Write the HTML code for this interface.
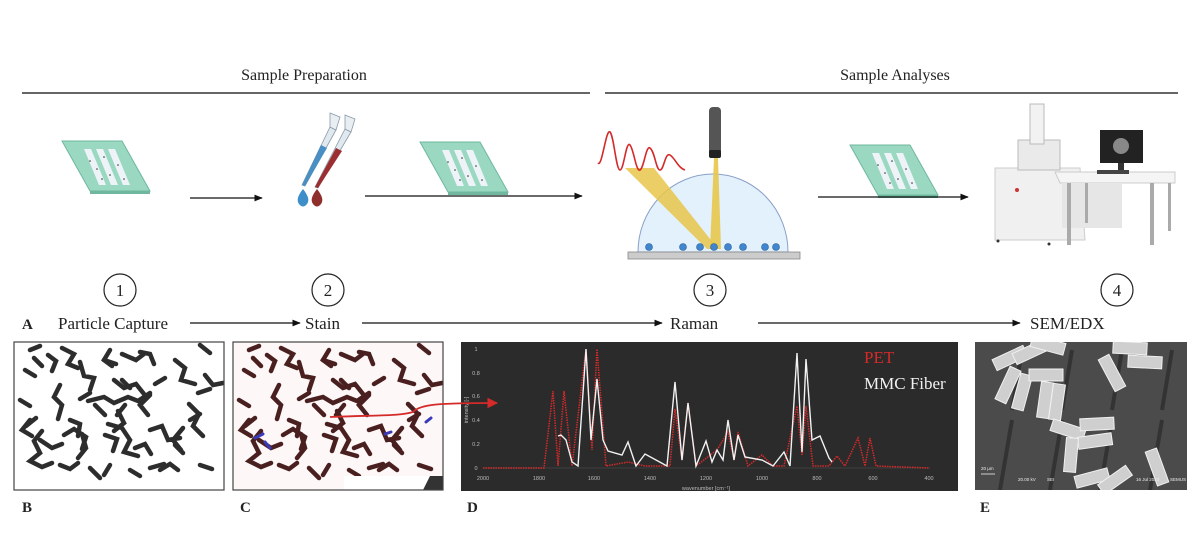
<!DOCTYPE html>
<html><head><meta charset="utf-8"><style>
html,body{margin:0;padding:0;background:#fff;}
svg{display:block;font-family:"Liberation Serif",serif;}
</style></head><body>
<svg width="1200" height="557" viewBox="0 0 1200 557" xmlns="http://www.w3.org/2000/svg">
<defs>
<marker id="ah" viewBox="0 0 10 10" refX="9" refY="5" markerWidth="7" markerHeight="7" orient="auto"><path d="M0,1 L10,5 L0,9 z" fill="#111"/></marker>
<marker id="ahr" viewBox="0 0 10 10" refX="9" refY="5" markerWidth="6" markerHeight="6" orient="auto"><path d="M0,0 L10,5 L0,10 z" fill="#d42a2a"/></marker>
<g id="slide">
<polygon points="0,0 60,0 88,50 28,50" fill="#9ad8c2" stroke="#6fb89f" stroke-width="1"/>
<polygon points="28,50 88,50 88,53 28,53" fill="#6fb89f"/>
<polygon points="22,8 29,8 44,44 37,44" fill="#eef3f8"/>
<polygon points="34,8 41,8 56,44 49,44" fill="#eef3f8"/>
<polygon points="46,8 53,8 68,44 61,44" fill="#eef3f8"/>
<g fill="#333"><circle cx="28" cy="20" r="0.8"/><circle cx="35" cy="28" r="0.8"/><circle cx="42" cy="16" r="0.8"/><circle cx="48" cy="34" r="0.8"/><circle cx="56" cy="24" r="0.8"/><circle cx="62" cy="38" r="0.8"/><circle cx="40" cy="38" r="0.8"/></g>
</g>
<g id="parts">
<path d="M30,350 l10,-4 m-6,12 l8,8 m20,-18 l12,6 l-6,10 l10,4 M80,362 l4,14 l10,2 l-4,12 m14,-30 l12,4 m6,-10 l14,6 l8,-6 m-30,26 l10,8 l12,-4 l8,10 M60,385 l-6,12 l8,8 l-4,14 m30,-18 l16,-4 l10,6 l14,-6 l10,4 l12,-8 M150,395 l-10,10 l8,10 m-30,-4 l6,12 l-10,8 m-50,4 l10,-6 l12,8 l-4,12 m-40,-18 l-8,10 l6,12 l-10,8 l12,6 l10,-4 M40,440 l12,8 l10,-4 m20,-10 l4,14 l-8,10 m30,-34 l14,4 l8,12 l-6,12 l14,4 M150,430 l12,-4 l6,14 l12,-2 M175,360 l10,8 l-4,12 l14,4 m-6,20 l10,10 l-6,12 l10,10 m-20,-8 l-10,12 l8,10 M200,345 l10,8 m-12,40 l12,-4 M20,400 l10,6 m-4,20 l10,-8 M130,470 l10,6 m-50,-8 l10,10 m50,-10 l14,-4"/>
<path d="M48,355 l8,6 l-4,10 M110,350 l-6,10 l8,6 M140,352 l10,2 l4,10 M165,378 l-10,6 M122,380 l8,8 m-40,5 l-10,6 M30,420 l-8,10 l10,6 M70,420 l10,4 l-2,12 M105,435 l12,4 l-4,12 M135,448 l10,-4 l6,10 M175,445 l8,8 M190,420 l10,-6 M205,375 l8,10 l10,-2 M60,465 l10,4 l8,-6 M110,465 l-6,10 M160,470 l10,-6 l8,6 M200,465 l12,4 M25,370 l10,6 M95,405 l10,10 M125,405 l-8,10"/>
</g>
</defs>

<text x="304" y="80" font-size="16" text-anchor="middle" fill="#222">Sample Preparation</text>
<text x="895" y="80" font-size="16" text-anchor="middle" fill="#222">Sample Analyses</text>
<line x1="22" y1="93" x2="590" y2="93" stroke="#333" stroke-width="1.5"/>
<line x1="605" y1="93" x2="1178" y2="93" stroke="#333" stroke-width="1.5"/>

<g transform="translate(62,141)"><use href="#slide"/></g>
<g transform="translate(420,142)"><use href="#slide"/></g>
<g transform="translate(850,145)"><use href="#slide"/></g>

<line x1="190" y1="198" x2="262" y2="198" stroke="#111" stroke-width="1.2" marker-end="url(#ah)"/>
<line x1="365" y1="196" x2="582" y2="196" stroke="#111" stroke-width="1.2" marker-end="url(#ah)"/>
<line x1="818" y1="197" x2="968" y2="197" stroke="#111" stroke-width="1.2" marker-end="url(#ah)"/>

<!-- pipettes -->
<g>
<polygon points="330,127 336,130 305,186 302,185" fill="#dfe9ef" stroke="#8a9aa5" stroke-width="0.8"/>
<polygon points="321,145 327,148 305,186 302,185" fill="#4a8fc4"/>
<polygon points="330,113 340,117 336,130 330,127" fill="#e8eef2" stroke="#8a9aa5" stroke-width="0.8"/>
<polygon points="345,129 351,132 318,188 315,187" fill="#dfe9ef" stroke="#8a9aa5" stroke-width="0.8"/>
<polygon points="336,148 342,151 318,188 315,187" fill="#9a2e31"/>
<polygon points="345,115 355,119 351,132 345,129" fill="#e8eef2" stroke="#8a9aa5" stroke-width="0.8"/>
<path d="M303,189 q-8,10 -4,15 q4,5 8,0 q4,-5 -4,-15z" fill="#3d8ec9"/>
<path d="M317,189 q-8,10 -4,15 q4,5 8,0 q4,-5 -4,-15z" fill="#8f2f2c"/>
</g>

<!-- raman -->
<g>
<path d="M638,252 A75,78 0 0 1 788,252 Z" fill="#e2f1fb" stroke="#8aa0c8" stroke-width="1"/>
<polygon points="625,168 654,168 718,249 707,249" fill="#e8c64a" opacity="0.85"/>
<polygon points="714,158 718,158 721,249 710,249" fill="#e8c64a" opacity="0.9"/>
<rect x="709" y="107" width="12" height="50" rx="4" fill="#555"/>
<rect x="709" y="150" width="12" height="8" rx="2" fill="#222"/>
<path d="M598,163 C602,168 606,128 610,132 C614,136 616,170 620,170 C624,170 626,140 630,145 C634,150 636,172 640,170 C644,168 646,145 650,148 C655,152 656,170 660,170 C664,170 665,152 670,155 C675,158 678,168 685,170" fill="none" stroke="#d42a2a" stroke-width="1.6"/>
<rect x="628" y="252" width="172" height="7" fill="#ccc" stroke="#888" stroke-width="0.8"/>
<g fill="#3f86cf" stroke="#2a5f9a" stroke-width="0.6">
<circle cx="649" cy="247" r="3.5"/><circle cx="683" cy="247" r="3.5"/><circle cx="700" cy="247" r="3.5"/><circle cx="714" cy="247" r="3.5"/><circle cx="728" cy="247" r="3.5"/><circle cx="743" cy="247" r="3.5"/><circle cx="765" cy="247" r="3.5"/><circle cx="776" cy="247" r="3.5"/></g>
</g>

<!-- SEM -->
<g>
<polygon points="995,168 1080,168 1085,240 995,240" fill="#f0f0f0" stroke="#ccc"/>
<polygon points="1055,172 1175,172 1175,183 1060,183" fill="#f5f5f5" stroke="#ccc"/>
<rect x="1062" y="183" width="60" height="45" fill="#e6e6e6"/>
<rect x="1018" y="140" width="42" height="30" fill="#eaeaea" stroke="#bbb"/>
<rect x="1030" y="104" width="14" height="40" fill="#f2f2f2" stroke="#bbb"/>
<rect x="1100" y="130" width="43" height="33" fill="#222"/>
<circle cx="1121" cy="146" r="8" fill="#888"/>
<rect x="1118" y="163" width="6" height="7" fill="#333"/>
<rect x="1097" y="170" width="32" height="4" fill="#444"/>
<circle cx="1017" cy="190" r="2" fill="#c33"/>
<g fill="#aaa"><rect x="1067" y="183" width="4" height="62"/><rect x="1085" y="183" width="3" height="40"/><rect x="1150" y="183" width="4" height="62"/><rect x="1168" y="183" width="3" height="48"/></g>
<circle cx="998" cy="241" r="1.5" fill="#333"/><circle cx="1049" cy="244" r="1.5" fill="#333"/>
</g>

<g fill="none" stroke="#222" stroke-width="1.2">
<circle cx="120" cy="290" r="16"/><circle cx="328" cy="290" r="16"/><circle cx="710" cy="290" r="16"/><circle cx="1117" cy="290" r="16"/></g>
<g font-size="17" text-anchor="middle" fill="#222">
<text x="120" y="296">1</text><text x="328" y="296">2</text><text x="710" y="296">3</text><text x="1117" y="296">4</text></g>

<text x="22" y="329" font-size="15" font-weight="bold" fill="#222">A</text>
<text x="58" y="329" font-size="17" fill="#222">Particle Capture</text>
<line x1="190" y1="323" x2="300" y2="323" stroke="#111" stroke-width="1.2" marker-end="url(#ah)"/>
<text x="305" y="329" font-size="17" fill="#222">Stain</text>
<line x1="362" y1="323" x2="662" y2="323" stroke="#111" stroke-width="1.2" marker-end="url(#ah)"/>
<text x="670" y="329" font-size="17" fill="#222">Raman</text>
<line x1="758" y1="323" x2="1020" y2="323" stroke="#111" stroke-width="1.2" marker-end="url(#ah)"/>
<text x="1030" y="329" font-size="17" fill="#222">SEM/EDX</text>

<!-- B image -->
<svg x="14" y="342" width="210" height="148" viewBox="14 342 210 148">
<rect x="14" y="342" width="210" height="148" fill="#fff"/>
<g stroke="#2d2d2d" stroke-width="4.5" stroke-linecap="round" fill="none"><use href="#parts"/></g>
</svg>
<rect x="14" y="342" width="210" height="148" fill="none" stroke="#444" stroke-width="1.2"/>

<!-- C image -->
<svg x="233" y="342" width="210" height="148" viewBox="14 342 210 148">
<rect x="14" y="342" width="210" height="148" fill="#fdf7f7"/>
<g stroke="#4a1f1f" stroke-width="4.5" stroke-linecap="round" fill="none"><use href="#parts"/></g>
<g stroke="#3a3ab8" stroke-width="3" stroke-linecap="round"><path d="M36,438 l8,-4 m2,8 l5,6 m115,-14 l6,-2 m35,-10 l5,-4"/></g>
<rect x="125" y="476" width="99" height="14" fill="#fff"/>
<path d="M211,476 l13,0 l0,14 l-20,0z" fill="#333"/>
</svg>
<rect x="233" y="342" width="210" height="148" fill="none" stroke="#444" stroke-width="1.2"/>

<!-- D chart -->
<g>
<rect x="461" y="342" width="497" height="149" fill="#2b2b2b"/>
<line x1="483" y1="468" x2="930" y2="468" stroke="#555" stroke-width="0.6"/>
<g fill="#bbb" font-family="Liberation Sans,sans-serif" font-size="5.5" text-anchor="middle">
<text x="483" y="480">2000</text><text x="539" y="480">1800</text><text x="594" y="480">1600</text><text x="650" y="480">1400</text><text x="706" y="480">1200</text><text x="762" y="480">1000</text><text x="817" y="480">800</text><text x="873" y="480">600</text><text x="929" y="480">400</text>
<text x="706" y="490">wavenumber [cm⁻¹]</text>
<text x="476" y="470">0</text><text x="476" y="446">0.2</text><text x="476" y="422">0.4</text><text x="476" y="398">0.6</text><text x="476" y="375">0.8</text><text x="476" y="351">1</text>
<text x="468" y="410" transform="rotate(-90 468 410)">intensity [-]</text>
</g>
<polyline fill="none" stroke="#d42a2a" stroke-width="1.5" stroke-dasharray="1.5 1" points="483,468 544,468 553,391 558,466 564,391 572,466 586,349 592,450 597,349 606,466 628,462 645,466 670,466 675,409 682,460 688,403 696,466 717,450 728,432 734,460 738,432 748,466 762,455 773,466 784,466 797,406 802,455 806,406 813,466 829,466 837,456 845,466 858,438 865,466 870,438 876,466 929,468"/>
<polyline fill="none" stroke="#f2f2f2" stroke-width="1.4" points="558,436 561,435 566,440 572,462 578,466 586,349 591,440 597,379 603,440 608,451 622,455 628,442 636,466 645,454 656,460 667,466 675,382 682,460 688,403 696,466 706,441 712,462 717,450 723,460 728,420 734,460 738,435 745,457 762,460 773,466 784,452 790,466 797,353 802,452 806,359 812,440 820,436 829,458 832,462"/>
<text x="864" y="363" font-size="17" fill="#d42a2a">PET</text>
<text x="864" y="389" font-size="17" fill="#f2f2f2">MMC Fiber</text>
</g>
<path d="M330,417 C380,415 400,416 413,412 C420,404 440,403 497,403" fill="none" stroke="#d42a2a" stroke-width="1.8" marker-end="url(#ahr)"/>

<!-- E SEM image -->
<svg x="975" y="342" width="212" height="148" viewBox="975 342 212 148">
<rect x="975" y="342" width="212" height="148" fill="#4b4b4b"/>
<g stroke="#333" stroke-width="4"><path d="M1000,490 L1012,420 M1012,410 L1022,350 M1050,490 L1062,420 M1062,410 L1072,350 M1100,490 L1112,420 M1112,410 L1122,350 M1150,490 L1162,420 M1162,410 L1172,350"/></g>
<g fill="#cfcfcf" stroke="#f0f0f0" stroke-width="1">
<rect x="-17" y="-6" width="34" height="12" transform="translate(1010,358) rotate(-25)"/>
<rect x="-17" y="-6" width="34" height="12" transform="translate(1030,352) rotate(-25)"/>
<rect x="-17" y="-6" width="34" height="12" transform="translate(1048,345) rotate(15)"/>
<rect x="-6" y="-18" width="12" height="36" transform="translate(1008,385) rotate(25)"/>
<rect x="-6" y="-18" width="12" height="36" transform="translate(1022,392) rotate(15)"/>
<rect x="-17" y="-6" width="34" height="12" transform="translate(1046,375)"/>
<rect x="-6" y="-18" width="12" height="36" transform="translate(1045,400) rotate(8)"/>
<rect x="-6" y="-18" width="12" height="36" transform="translate(1057,402) rotate(8)"/>
<rect x="-6" y="-18" width="12" height="36" transform="translate(1112,373) rotate(-28)"/>
<rect x="-17" y="-6" width="34" height="12" transform="translate(1130,348) rotate(3)"/>
<rect x="-17" y="-6" width="34" height="12" transform="translate(1145,362) rotate(3)"/>
<rect x="-17" y="-6" width="34" height="12" transform="translate(1068,430) rotate(18)"/>
<rect x="-17" y="-6" width="34" height="12" transform="translate(1097,424) rotate(-3)"/>
<rect x="-17" y="-6" width="34" height="12" transform="translate(1095,441) rotate(-8)"/>
<rect x="-6" y="-17" width="12" height="34" transform="translate(1071,455) rotate(5)"/>
<rect x="-6" y="-18" width="12" height="36" transform="translate(1157,467) rotate(-20)"/>
<rect x="-17" y="-6" width="34" height="12" transform="translate(1092,478) rotate(-15)"/>
<rect x="-17" y="-6" width="34" height="12" transform="translate(1115,480) rotate(-35)"/>
</g>
<g fill="#eee" font-family="Liberation Sans,sans-serif" font-size="4.5"><text x="981" y="470">20 µm</text><text x="1018" y="481">20.00 kV</text><text x="1047" y="481">SEI</text><text x="1136" y="481">16 Jul 2023</text><text x="1170" y="481">SEMUS</text></g>
<line x1="981" y1="474" x2="995" y2="474" stroke="#eee" stroke-width="0.8"/>
</svg>

<g font-size="15" font-weight="bold" fill="#222">
<text x="22" y="512">B</text><text x="240" y="512">C</text><text x="467" y="512">D</text><text x="980" y="512">E</text></g>
</svg>
</body></html>
